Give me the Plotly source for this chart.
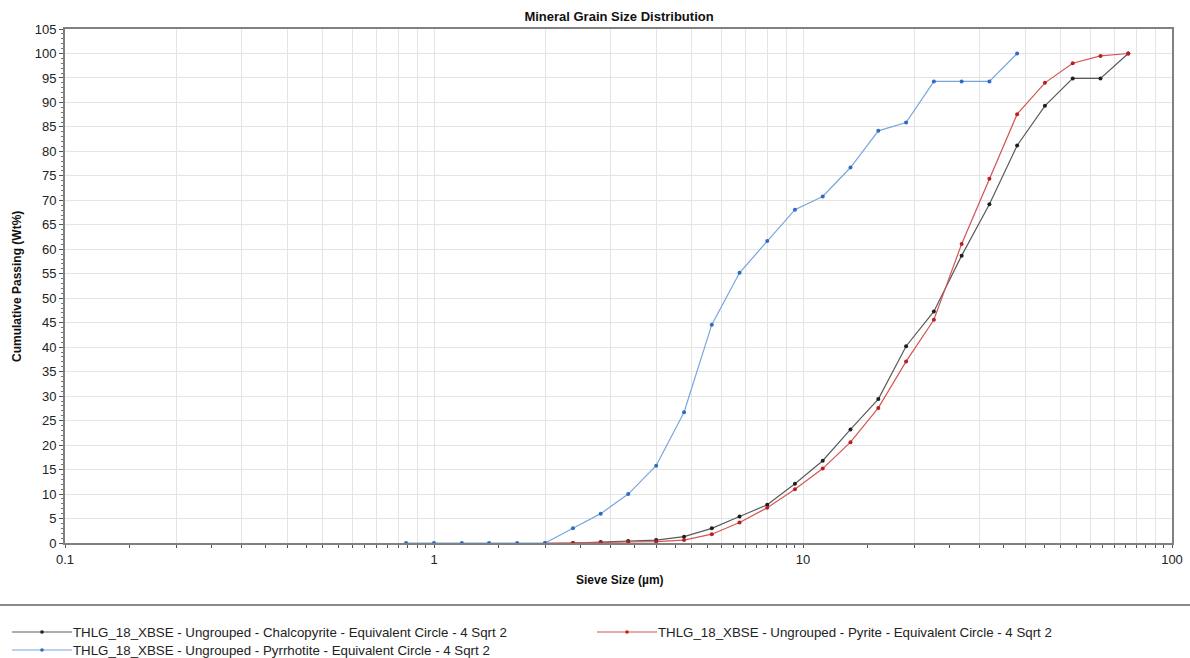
import plotly.graph_objects as go

# Sieve sizes (µm), fourth-root-of-two series
sizes_pyrrhotite = [0.84, 1.0, 1.19, 1.41, 1.68, 2.0, 2.38, 2.83, 3.36, 4.0, 4.76, 5.66,
                    6.73, 8.0, 9.51, 11.31, 13.45, 16.0, 19.03, 22.63, 26.91, 32.0, 38.05]
passing_pyrrhotite = [0, 0, 0, 0, 0, 0, 3.0, 6.0, 10.0, 15.8, 26.7, 44.6,
                      55.2, 61.7, 68.1, 70.8, 76.7, 84.2, 85.9, 94.3, 94.3, 94.3, 100]

sizes_chalcopyrite = [2.38, 2.83, 3.36, 4.0, 4.76, 5.66, 6.73, 8.0, 9.51, 11.31, 13.45,
                      16.0, 19.03, 22.63, 26.91, 32.0, 38.05, 45.25, 53.82, 64.0, 76.11]
passing_chalcopyrite = [0, 0.2, 0.4, 0.6, 1.3, 3.0, 5.4, 7.8, 12.1, 16.8, 23.2,
                        29.4, 40.2, 47.3, 58.7, 69.2, 81.2, 89.3, 94.9, 94.9, 100]

sizes_pyrite = [2.0, 2.38, 2.83, 3.36, 4.0, 4.76, 5.66, 6.73, 8.0, 9.51, 11.31, 13.45,
                16.0, 19.03, 22.63, 26.91, 32.0, 38.05, 45.25, 53.82, 64.0, 76.11]
passing_pyrite = [0, 0, 0.1, 0.2, 0.3, 0.6, 1.8, 4.2, 7.2, 11.0, 15.2, 20.6,
                  27.6, 37.1, 45.6, 61.1, 74.4, 87.6, 94.0, 98.0, 99.5, 100]

series_names = [
    "THLG_18_XBSE - Ungrouped - Chalcopyrite - Equivalent Circle - 4 Sqrt 2",
    "THLG_18_XBSE - Ungrouped - Pyrite - Equivalent Circle - 4 Sqrt 2",
    "THLG_18_XBSE - Ungrouped - Pyrrhotite - Equivalent Circle - 4 Sqrt 2",
]

x_major_labels = ["0.1", "1", "10", "100"]
x_decades = [0.1, 1, 10, 100]

FONT = "Liberation Sans, Arial, sans-serif"
W, H = 1190, 658
ML, MR, MT, MB = 65, 18, 29, 115
PW, PH = W - ML - MR, H - MT - MB

line_cols = ["#5a5a5a", "#d45555", "#79a5de"]
mark_cols = ["#1e1e1e", "#b82020", "#2e6cc2"]

fig = go.Figure()
data = [
    (sizes_chalcopyrite, passing_chalcopyrite),
    (sizes_pyrite, passing_pyrite),
    (sizes_pyrrhotite, passing_pyrrhotite),
]
for (xs, ys), name, lc, mc in zip(data, series_names, line_cols, mark_cols):
    fig.add_trace(go.Scatter(
        x=xs, y=ys, name=name, mode="lines+markers",
        line=dict(color=lc, width=1.2),
        marker=dict(color=mc, size=4, line=dict(width=0)),
        showlegend=False,
    ))

# gridlines at every integer multiple, labels only at decades
grid_vals, grid_text = [], []
half_vals = []
for d in x_decades:
    for m in range(1, 10):
        v = round(m * d, 6)
        if v > 100:
            break
        grid_vals.append(v)
        grid_text.append(x_major_labels[x_decades.index(d)] if m == 1 else "")
    if d < 100:
        for k in range(3, 20, 2):
            half_vals.append(round(k * 0.5 * d, 6))

fig.update_xaxes(
    type="log", range=[-1, 2],
    tickmode="array", tickvals=grid_vals, ticktext=grid_text,
    ticks="outside", ticklen=3, tickwidth=1, tickcolor="#555",
    showgrid=True, gridcolor="#e4e4e4", gridwidth=1,
    showline=True, linecolor="#808080", linewidth=2, mirror=True,
    tickfont=dict(family=FONT, size=13, color="#222"),
    minor=dict(tickvals=half_vals, ticks="outside", ticklen=3,
               tickcolor="#555", showgrid=False),
    zeroline=False,
)
fig.update_yaxes(
    range=[0, 105], tickmode="linear", tick0=0, dtick=5,
    ticks="outside", ticklen=4, tickwidth=1, tickcolor="#555",
    showgrid=True, gridcolor="#e4e4e4", gridwidth=1,
    showline=True, linecolor="#808080", linewidth=2, mirror=True,
    tickfont=dict(family=FONT, size=13, color="#222"),
    minor=dict(dtick=1, ticks="outside", ticklen=2, tickcolor="#777", showgrid=False),
    zeroline=False,
)


def px_x(px):
    return (px - ML) / PW


def px_y(py):
    return (H - MB - py) / PH


shapes = [
    dict(type="line", xref="paper", yref="paper",
         x0=px_x(0), x1=px_x(W), y0=px_y(605), y1=px_y(605),
         line=dict(color="#8a8a8a", width=2)),
]
annotations = [
    dict(text="<b>Sieve Size (µm)</b>", xref="paper", yref="paper",
         x=px_x(620), y=px_y(580), xanchor="center", yanchor="middle", showarrow=False,
         font=dict(family=FONT, size=12, color="#111")),
    dict(text="<b>Cumulative Passing (Wt%)</b>", xref="paper", yref="paper",
         x=px_x(17), y=px_y(287), xanchor="center", yanchor="middle",
         textangle=-90, showarrow=False,
         font=dict(family=FONT, size=12, color="#111")),
]

# legend entries: line sample with a centre marker, then label
legend_pos = [(12, 72, 632), (597, 657, 632), (12, 72, 650)]
for (x0, x1, yy), name, lc, mc in zip(legend_pos, series_names, line_cols, mark_cols):
    shapes.append(dict(type="line", xref="paper", yref="paper",
                       x0=px_x(x0), x1=px_x(x1), y0=px_y(yy), y1=px_y(yy),
                       line=dict(color=lc, width=1.2)))
    cx = (x0 + x1) / 2
    shapes.append(dict(type="circle", xref="paper", yref="paper",
                       x0=px_x(cx - 1.8), x1=px_x(cx + 1.8),
                       y0=px_y(yy + 1.8), y1=px_y(yy - 1.8),
                       fillcolor=mc, line=dict(width=0)))
    annotations.append(dict(text=name, xref="paper", yref="paper",
                            x=px_x(x1 - 1), y=px_y(yy), xanchor="left", yanchor="middle",
                            showarrow=False,
                            font=dict(family=FONT, size=13.3, color="#222")))

fig.update_layout(
    width=W, height=H,
    margin=dict(l=ML, r=MR, t=MT, b=MB, autoexpand=False),
    paper_bgcolor="white", plot_bgcolor="white",
    title=dict(text="<b>Mineral Grain Size Distribution</b>",
               x=619 / W, xanchor="center",
               y=1 - 16 / H, yanchor="middle",
               font=dict(family=FONT, size=13, color="#111")),
    shapes=shapes, annotations=annotations,
)

fig.write_html("out.html")
